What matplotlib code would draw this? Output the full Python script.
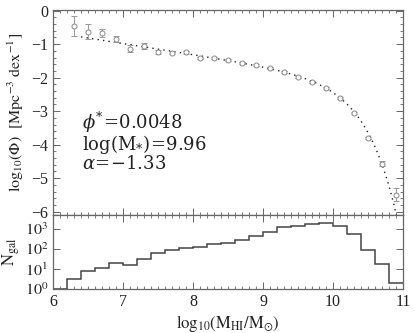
import numpy as np
import matplotlib
matplotlib.use("Agg")
import matplotlib.pyplot as plt
from matplotlib.ticker import MultipleLocator, LogLocator, NullFormatter, FixedLocator

plt.rcParams['font.family'] = ['Liberation Serif', 'DejaVu Serif']
plt.rcParams['mathtext.fontset'] = 'stix'

# ---- data ----
logM = [6.3, 6.5, 6.7, 6.9, 7.1, 7.3, 7.5, 7.7, 7.9, 8.1, 8.3, 8.5, 8.7, 8.9,
        9.1, 9.3, 9.5, 9.7, 9.9, 10.1, 10.3, 10.5, 10.7, 10.9]
logphi = [-0.46, -0.63, -0.68, -0.85, -1.13, -1.05, -1.23, -1.25, -1.24, -1.40,
          -1.40, -1.48, -1.57, -1.62, -1.70, -1.82, -1.98, -2.14, -2.32, -2.60,
          -3.06, -3.80, -4.57, -5.49]
logphi_err = [0.31, 0.22, 0.12, 0.10, 0.10, 0.08, 0.06, 0.05, 0.04, 0.03,
              0.03, 0.03, 0.03, 0.03, 0.03, 0.03, 0.03, 0.03, 0.03, 0.03,
              0.03, 0.04, 0.08, 0.20]

phi_star = 0.0048
logMstar = 9.96
alpha = -1.33

bin_edges = [6.0, 6.2, 6.4, 6.6, 6.8, 7.0, 7.2, 7.4, 7.6, 7.8, 8.0, 8.2, 8.4,
             8.6, 8.8, 9.0, 9.2, 9.4, 9.6, 9.8, 10.0, 10.2, 10.4, 10.6, 10.8, 11.0]
ngal = [1, 3, 8, 11, 19, 15, 33, 63, 89, 107, 120, 180, 195, 275, 430, 740,
        1250, 1450, 1820, 1900, 1450, 570, 89, 17, 2]

# ---- figure ----
W, H = 415, 333
fig = plt.figure(figsize=(W / 100, H / 100), dpi=100)
x0, x1 = 53 / W, 403 / W
ax1 = fig.add_axes([x0, 1 - 215 / H, x1 - x0, (215 - 10) / H])
ax2 = fig.add_axes([x0, 1 - 289 / H, x1 - x0, (289 - 215) / H])

lc = '#444444'
for ax in (ax1, ax2):
    for s in ax.spines.values():
        s.set_color('#666666')
        s.set_linewidth(0.9)
    ax.tick_params(which='both', direction='in', top=True, right=True,
                   colors='#666666', labelcolor='#222222', labelsize=11.5)
    ax.tick_params(which='major', length=5, width=0.7)
    ax.tick_params(which='minor', length=2.5, width=0.6)
    ax.set_xlim(6, 11)
    ax.xaxis.set_major_locator(MultipleLocator(1))
    ax.xaxis.set_minor_locator(MultipleLocator(0.1))

# Schechter fit curve (from the parameters quoted on the chart)
xm = np.linspace(6.4, 11.0, 300)
ym = (np.log10(np.log(10) * phi_star) + (alpha + 1) * (xm - logMstar)
      - (10 ** (xm - logMstar)) / np.log(10))
ax1.plot(xm, ym, linestyle=(0, (1, 3)), color='#222222', lw=1.0)
ax1.errorbar(logM, logphi, yerr=logphi_err, fmt='o', ms=3.6, mfc='white',
             mec='#888888', mew=0.7, ecolor='#999999', elinewidth=0.7,
             capsize=2, capthick=0.7)
ax1.set_ylim(-6.1, 0.02)
ax1.yaxis.set_minor_locator(MultipleLocator(0.2))
ax1.set_yticks([0, -1, -2, -3, -4, -5, -6])
ax1.set_yticklabels(['0', '\u22121', '\u22122', '\u22123', '\u22124', '\u22125', '\u22126'])
ax1.tick_params(axis='x', labelbottom=False)
ax1.set_ylabel(r'$\mathrm{log_{10}(\Phi)\ \ [Mpc^{-3}\ dex^{-1}]}$', fontsize=11.5,
               color='#222222', labelpad=4)
fit_text = '\n'.join([r'$\phi^{*}\!=\!0.0048$',
                      r'$\mathrm{log(M_{*})\!=\!9.96}$',
                      r'$\alpha\!=\!\mathrm{-1.33}$'])
ax1.text(6.42, -3.9, fit_text, fontsize=13, color='#222222', va='center',
         ha='left', linespacing=0.92, math_fontfamily='dejavuserif')

# histogram
ax2.stairs(ngal, bin_edges, color=lc, lw=1.1, baseline=None)
ax2.set_yscale('log')
ax2.set_ylim(1, 5000)
ax2.yaxis.set_major_locator(FixedLocator([1, 10, 100, 1000]))
ax2.yaxis.set_minor_locator(LogLocator(base=10, subs=np.arange(2, 10)))
ax2.yaxis.set_minor_formatter(NullFormatter())
ax2.set_yticklabels([r'$10^0$', r'$10^1$', r'$10^2$', r'$10^3$'])
ax2.set_xticks([6, 7, 8, 9, 10, 11])
ax2.set_xticklabels(['6', '7', '8', '9', '10', '11'])
ax2.set_ylabel(r'$\mathrm{N_{gal}}$', fontsize=12, color='#222222', labelpad=2)
ax2.set_xlabel(r'$\mathrm{log_{10}(M_{HI}/M_{\odot})}$', fontsize=12,
               color='#222222', labelpad=2)

fig.savefig('out.png', dpi=100)
